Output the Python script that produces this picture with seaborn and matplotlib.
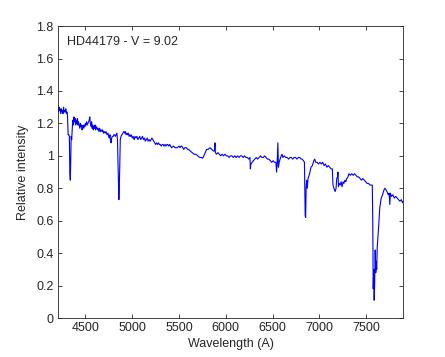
import numpy as np
import pandas as pd
import seaborn as sns
import matplotlib

matplotlib.use("Agg")
import matplotlib.pyplot as plt

# spectrum (wavelength in A, relative intensity)
wavelength = [
    4205, 4212, 4218, 4224, 4230, 4236, 4242, 4248, 4254, 4260,
    4266, 4272, 4278, 4284, 4290, 4296, 4302, 4308, 4315, 4322,
    4328, 4333, 4338, 4342, 4347, 4353, 4360, 4366, 4372, 4378,
    4384, 4390, 4396, 4402, 4408, 4414, 4420, 4426, 4432, 4440,
    4446, 4452, 4458, 4464, 4470, 4476, 4482, 4488, 4494, 4500,
    4506, 4512, 4518, 4526, 4534, 4540, 4546, 4552, 4560, 4566,
    4572, 4578, 4584, 4590, 4596, 4602, 4608, 4614, 4620, 4628,
    4636, 4644, 4652, 4660, 4668, 4676, 4684, 4692, 4700, 4710,
    4720, 4730, 4740, 4748, 4755, 4762, 4768, 4774, 4780, 4788,
    4796, 4804, 4812, 4820, 4828, 4836, 4842, 4848, 4853, 4857,
    4861, 4866, 4872, 4880, 4890, 4900, 4910, 4918, 4926, 4934,
    4942, 4950, 4958, 4966, 4974, 4982, 4990, 5000, 5010, 5020,
    5030, 5040, 5050, 5060, 5070, 5080, 5090, 5100, 5110, 5120,
    5130, 5140, 5150, 5160, 5170, 5180, 5190, 5200, 5210, 5220,
    5230, 5240, 5250, 5260, 5270, 5280, 5290, 5300, 5310, 5320,
    5330, 5340, 5350, 5360, 5370, 5380, 5390, 5400, 5410, 5420,
    5440, 5460, 5480, 5500, 5510, 5520, 5530, 5540, 5550, 5560,
    5570, 5580, 5590, 5600, 5620, 5640, 5660, 5680, 5700, 5720,
    5740, 5752, 5765, 5780, 5795, 5810, 5830, 5850, 5865, 5878,
    5884, 5888, 5900, 5915, 5930, 5945, 5960, 5975, 5990, 6005,
    6020, 6035, 6050, 6065, 6080, 6095, 6110, 6125, 6140, 6155,
    6170, 6185, 6200, 6215, 6230, 6245, 6258, 6262, 6268, 6280,
    6295, 6310, 6325, 6340, 6355, 6370, 6385, 6400, 6415, 6430,
    6445, 6460, 6475, 6490, 6505, 6520, 6535, 6542, 6548, 6556,
    6562, 6570, 6580, 6592, 6600, 6610, 6625, 6640, 6655, 6670,
    6685, 6700, 6715, 6730, 6745, 6760, 6775, 6790, 6805, 6815,
    6830, 6840, 6848, 6853, 6858, 6864, 6870, 6878, 6885, 6895,
    6910, 6925, 6940, 6950, 6960, 6975, 6990, 7005, 7020, 7035,
    7050, 7065, 7080, 7095, 7110, 7125, 7138, 7145, 7155, 7168,
    7178, 7185, 7193, 7198, 7204, 7212, 7222, 7232, 7242, 7252,
    7262, 7272, 7282, 7292, 7305, 7315, 7330, 7345, 7360, 7375,
    7390, 7405, 7420, 7435, 7450, 7465, 7480, 7495, 7510, 7525,
    7540, 7555, 7565, 7570, 7575, 7580, 7585, 7590, 7596, 7602,
    7607, 7612, 7618, 7630, 7645, 7660, 7675, 7690, 7700, 7712,
    7722, 7735, 7745, 7752, 7758, 7770, 7785, 7800, 7815, 7830,
    7845, 7860, 7875, 7890, 7895,
]
intensity = [
    1.31, 1.27, 1.30, 1.28, 1.29, 1.26, 1.29, 1.27, 1.28, 1.26,
    1.30, 1.27, 1.28, 1.27, 1.29, 1.26, 1.27, 1.25, 1.13, 1.13,
    1.12, 0.90, 0.85, 0.95, 1.12, 1.10, 1.18, 1.22, 1.19, 1.24,
    1.21, 1.23, 1.19, 1.22, 1.20, 1.23, 1.19, 1.21, 1.19, 1.17,
    1.20, 1.18, 1.19, 1.16, 1.18, 1.19, 1.17, 1.19, 1.18, 1.20,
    1.19, 1.21, 1.19, 1.20, 1.21, 1.22, 1.24, 1.20, 1.18, 1.21,
    1.17, 1.19, 1.16, 1.18, 1.17, 1.19, 1.16, 1.17, 1.18, 1.16,
    1.17, 1.15, 1.17, 1.15, 1.16, 1.15, 1.16, 1.14, 1.15, 1.14,
    1.15, 1.13, 1.14, 1.12, 1.11, 1.13, 1.09, 1.08, 1.11, 1.12,
    1.12, 1.13, 1.13, 1.12, 1.13, 1.14, 1.10, 0.96, 0.85, 0.73,
    0.80, 0.92, 1.10, 1.12, 1.13, 1.14, 1.15, 1.14, 1.15, 1.13,
    1.14, 1.13, 1.14, 1.12, 1.13, 1.12, 1.13, 1.11, 1.12, 1.10,
    1.12, 1.11, 1.12, 1.10, 1.11, 1.12, 1.10, 1.11, 1.12, 1.10,
    1.11, 1.09, 1.10, 1.11, 1.09, 1.10, 1.09, 1.10, 1.11, 1.10,
    1.09, 1.08, 1.07, 1.08, 1.07, 1.08, 1.07, 1.07, 1.06, 1.07,
    1.07, 1.06, 1.07, 1.06, 1.07, 1.07, 1.06, 1.07, 1.06, 1.05,
    1.06, 1.05, 1.05, 1.06, 1.05, 1.06, 1.06, 1.05, 1.04, 1.05,
    1.05, 1.05, 1.04, 1.04, 1.03, 1.02, 1.01, 1.01, 1.00, 0.99,
    0.99, 0.985, 1.00, 1.02, 1.04, 1.04, 1.05, 1.04, 1.03, 1.03,
    1.08, 1.02, 1.01, 1.02, 1.01, 1.00, 1.01, 1.00, 1.01, 1.00,
    1.00, 0.99, 1.00, 1.00, 0.99, 1.00, 0.99, 1.00, 0.99, 1.00,
    1.00, 0.99, 1.00, 0.99, 0.99, 0.98, 0.99, 0.92, 0.95, 0.96,
    0.97, 0.98, 0.99, 0.98, 0.99, 1.00, 0.99, 0.99, 1.00, 0.99,
    0.98, 0.98, 0.97, 0.96, 0.97, 0.96, 0.96, 0.90, 0.95, 1.08,
    0.93, 0.96, 0.98, 1.00, 1.01, 0.99, 1.00, 0.99, 0.99, 0.98,
    0.99, 0.99, 0.98, 0.99, 0.99, 0.98, 0.99, 0.99, 0.98, 0.98,
    0.97, 0.96, 0.63, 0.62, 0.80, 0.85, 0.80, 0.86, 0.87, 0.89,
    0.93, 0.94, 0.97, 0.98, 0.96, 0.96, 0.95, 0.96, 0.95, 0.96,
    0.94, 0.95, 0.93, 0.94, 0.93, 0.92, 0.92, 0.82, 0.80, 0.78,
    0.80, 0.86, 0.87, 0.90, 0.81, 0.83, 0.82, 0.84, 0.81, 0.84,
    0.83, 0.85, 0.84, 0.86, 0.87, 0.89, 0.88, 0.89, 0.88, 0.89,
    0.88, 0.87, 0.87, 0.86, 0.85, 0.86, 0.85, 0.84, 0.83, 0.83,
    0.82, 0.82, 0.82, 0.60, 0.18, 0.30, 0.11, 0.20, 0.42, 0.28,
    0.35, 0.30, 0.44, 0.54, 0.68, 0.74, 0.76, 0.79, 0.80, 0.79,
    0.78, 0.76, 0.77, 0.70, 0.77, 0.75, 0.76, 0.74, 0.75, 0.74,
    0.73, 0.72, 0.73, 0.71, 0.72,
]
xticks = [4500, 5000, 5500, 6000, 6500, 7000, 7500]
yticks = [0, 0.2, 0.4, 0.6, 0.8, 1, 1.2, 1.4, 1.6, 1.8]
ytick_labels = ["0", "0.2", "0.4", "0.6", "0.8", "1", "1.2", "1.4", "1.6", "1.8"]

sns.set_style("ticks")
plt.rcParams["font.family"] = ["Liberation Sans", "DejaVu Sans"]

df = pd.DataFrame({"wavelength": wavelength, "intensity": intensity})

fig = plt.figure(figsize=(4.45, 3.57), dpi=100)
ax = fig.add_axes([0.130, 0.109, 0.776, 0.818])

sns.lineplot(
    data=df, x="wavelength", y="intensity", ax=ax,
    color="blue", linewidth=0.8, estimator=None, sort=False,
)

ax.set_xlim(4205, 7895)
ax.set_ylim(0, 1.8)
ax.set_xticks(xticks)
ax.set_yticks(yticks)
ax.set_yticklabels(ytick_labels)
ax.tick_params(direction="in", length=3, width=0.6, labelsize=9,
               top=True, right=True, pad=3)
for s in ax.spines.values():
    s.set_linewidth(0.6)
    s.set_visible(True)

ax.set_xlabel("Wavelength (A)", fontsize=9, labelpad=3)
ax.set_ylabel("Relative intensity", fontsize=9, labelpad=5)
ax.text(4300, 1.7, "HD44179 - V = 9.02", fontsize=9, va="center", ha="left")

fig.savefig("out.png", dpi=100)
